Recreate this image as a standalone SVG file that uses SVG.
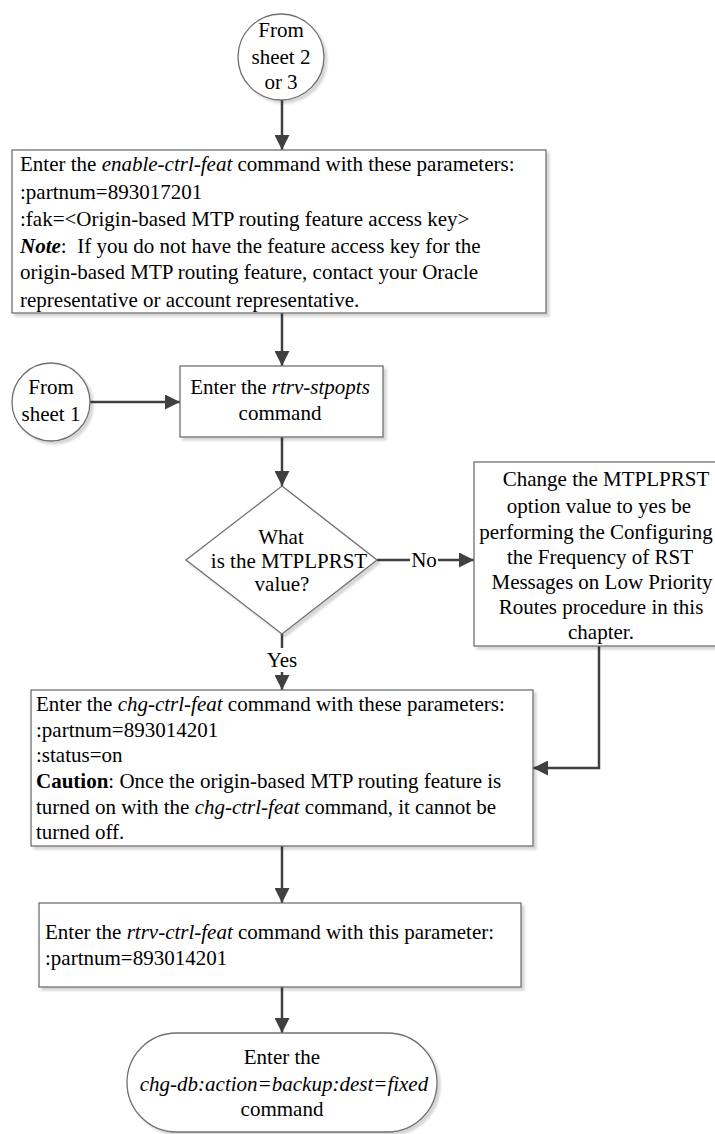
<svg xmlns="http://www.w3.org/2000/svg" width="715" height="1134" viewBox="0 0 715 1134">
<defs>
<marker id="ah" viewBox="0 0 10 10" refX="10" refY="5" markerWidth="6" markerHeight="6" markerUnits="strokeWidth" orient="auto">
<path d="M0,0 L10,5 L0,10 z" fill="#404040"/>
</marker>
<filter id="sh" x="-5%" y="-5%" width="115%" height="115%">
<feOffset dx="3" dy="3" in="SourceAlpha" result="o"/>
<feGaussianBlur in="o" stdDeviation="1.3" result="b"/>
<feFlood flood-color="#000" flood-opacity="0.16"/>
<feComposite in2="b" operator="in" result="s"/>
<feMerge><feMergeNode in="s"/><feMergeNode in="SourceGraphic"/></feMerge>
</filter>
</defs>
<style>
.n{fill:#fff;stroke:#707070;stroke-width:1.3;filter:url(#sh)}
.t{font-family:"Liberation Serif","Times New Roman",serif;font-size:21px;fill:#000}
.c{text-anchor:middle}
.e{stroke:#404040;stroke-width:2.5;fill:none;marker-end:url(#ah)}
.l{stroke:#404040;stroke-width:2.5;fill:none}
</style>
<g id="connectors">
<line class="e" x1="282" y1="100" x2="282" y2="150"/>
<line class="e" x1="282" y1="313" x2="282" y2="366"/>
<line class="e" x1="90" y1="402" x2="180" y2="402"/>
<line class="e" x1="282" y1="437" x2="282" y2="486"/>
<line class="l" x1="377" y1="560" x2="410" y2="560"/>
<line class="e" x1="438" y1="560" x2="474" y2="560"/>
<text class="t c" x="424" y="567">No</text>
<line class="l" x1="282" y1="634" x2="282" y2="648"/>
<line class="e" x1="282" y1="672" x2="282" y2="690"/>
<text class="t c" x="282" y="667">Yes</text>
<polyline class="e" points="599,646 599,768 533,768"/>
<line class="e" x1="282" y1="846" x2="282" y2="903"/>
<line class="e" x1="282" y1="987" x2="282" y2="1033"/>
</g>
<g id="start1">
<circle class="n" cx="281" cy="57" r="43"/>
<text class="t c" x="281" y="37">From</text>
<text class="t c" x="281" y="64">sheet 2</text>
<text class="t c" x="281" y="89">or 3</text>
</g>
<g id="enable">
<rect class="n" x="12" y="150" width="534" height="163"/>
<text class="t" x="20" y="171">Enter the <tspan font-style="italic">enable-ctrl-feat</tspan> command with these parameters:</text>
<text class="t" x="20" y="199">:partnum=893017201</text>
<text class="t" x="20" y="226">:fak=&lt;Origin-based MTP routing feature access key&gt;</text>
<text class="t" x="20" y="253" xml:space="preserve"><tspan font-weight="bold" font-style="italic">Note</tspan>:  If you do not have the feature access key for the</text>
<text class="t" x="20" y="279">origin-based MTP routing feature, contact your Oracle</text>
<text class="t" x="20" y="307">representative or account representative.</text>
</g>
<g id="start2">
<circle class="n" cx="51" cy="402" r="39"/>
<text class="t c" x="51" y="394">From</text>
<text class="t c" x="51" y="421">sheet 1</text>
</g>
<g id="rtrvstp">
<rect class="n" x="180" y="366" width="203" height="71"/>
<text class="t c" x="280" y="394">Enter the <tspan font-style="italic">rtrv-stpopts</tspan></text>
<text class="t c" x="280" y="420">command</text>
</g>
<g id="decision">
<polygon class="n" points="282,486 377,560 282,634 186,560"/>
<text class="t c" x="281" y="544">What</text>
<text class="t c" x="289" y="568">is the MTPLPRST</text>
<text class="t c" x="282" y="591">value?</text>
</g>
<g id="change">
<rect class="n" x="474" y="462" width="250" height="184"/>
<text class="t c" x="606" y="486">Change the MTPLPRST</text>
<text class="t c" x="599" y="513">option value to yes be</text>
<text class="t c" x="596" y="539">performing the Configuring</text>
<text class="t c" x="600" y="564">the Frequency of RST</text>
<text class="t c" x="602" y="589">Messages on Low Priority</text>
<text class="t c" x="601" y="614">Routes procedure in this</text>
<text class="t c" x="601" y="639">chapter.</text>
</g>
<g id="chgctrl">
<rect class="n" x="31" y="690" width="502" height="156"/>
<text class="t" x="36" y="711">Enter the <tspan font-style="italic">chg-ctrl-feat</tspan> command with these parameters:</text>
<text class="t" x="36" y="737">:partnum=893014201</text>
<text class="t" x="36" y="762">:status=on</text>
<text class="t" x="36" y="788"><tspan font-weight="bold">Caution</tspan>: Once the origin-based MTP routing feature is</text>
<text class="t" x="36" y="814">turned on with the <tspan font-style="italic">chg-ctrl-feat</tspan> command, it cannot be</text>
<text class="t" x="36" y="839">turned off.</text>
</g>
<g id="rtrvctrl">
<rect class="n" x="39" y="903" width="482" height="84"/>
<text class="t" x="45" y="939">Enter the <tspan font-style="italic">rtrv-ctrl-feat</tspan> command with this parameter:</text>
<text class="t" x="45" y="965">:partnum=893014201</text>
</g>
<g id="end">
<rect class="n" x="127" y="1033" width="310" height="99" rx="49.5" ry="49.5"/>
<text class="t c" x="282" y="1064">Enter the</text>
<text class="t c" x="284" y="1091" font-style="italic">chg-db:action=backup:dest=fixed</text>
<text class="t c" x="282" y="1116">command</text>
</g>
</svg>
